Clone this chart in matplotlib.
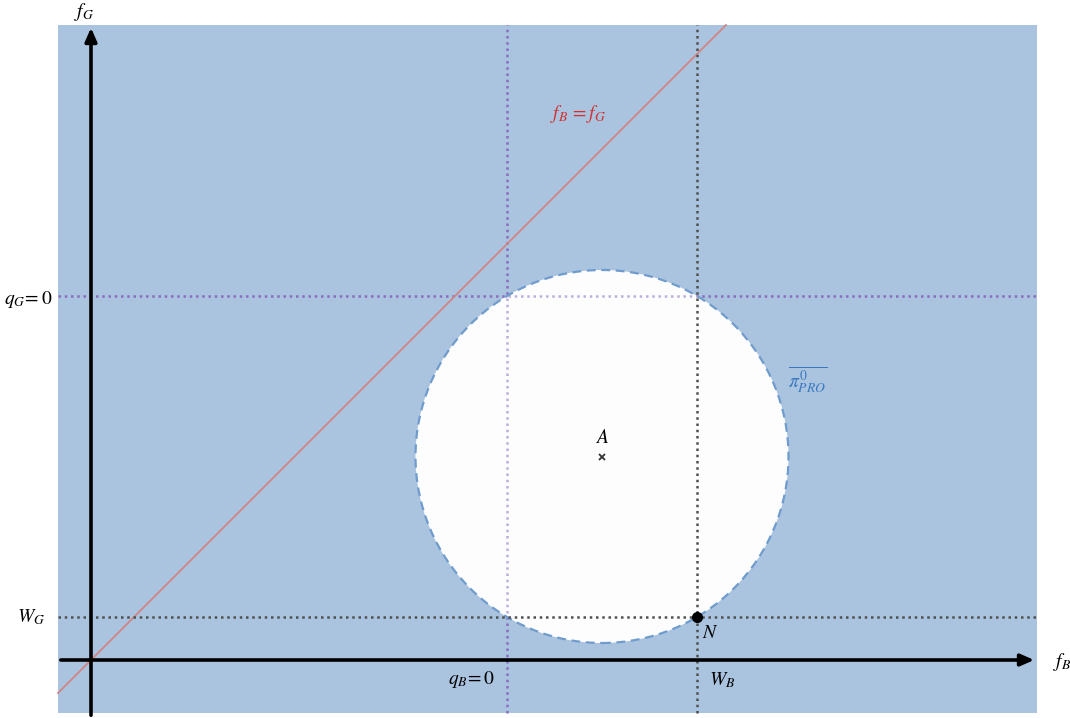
import matplotlib
matplotlib.use("Agg")
import matplotlib.pyplot as plt
from matplotlib.patches import Circle, Rectangle

plt.rcParams['mathtext.fontset'] = 'stix'
plt.rcParams['font.family'] = ['DejaVu Serif']

# Data (units: abstract plane coordinates, origin at O)
q_B0 = 416       # q_B = 0 line (fB value)
W_B = 606        # W_B (fB value)
q_G0 = 364       # q_G = 0 line (fG value)
W_G = 43         # W_G (fG value)
A = (511, 203.5)  # centre of the circle
radius = 186.5
N = (606, 43)
plane_x = (-33, 946)
plane_y = (-53, 635)

fig = plt.figure(figsize=(10.7, 7.18), dpi=100)
ax = fig.add_axes([0, 0, 1, 1])
ax.set_xlim(-91, 979)
ax.set_ylim(-58, 660)
ax.axis('off')

bg = '#aac4e0'
ax.add_patch(Rectangle((plane_x[0], plane_y[0]), plane_x[1] - plane_x[0],
                       plane_y[1] - plane_y[0], facecolor=bg, edgecolor='none', zorder=0))

purple = '#8a6cc0'
gray = '#505050'
dot = (0, (1, 1.5))
# purple dotted lines (below circle)
ax.plot([q_B0, q_B0], [plane_y[0], plane_y[1]], ls=dot, color=purple, lw=1.8, zorder=1)
ax.plot([plane_x[0], plane_x[1]], [q_G0, q_G0], ls=dot, color=purple, lw=1.8, zorder=1)

# red 45 degree line
ax.plot([plane_x[0], plane_y[1]], [plane_x[0], plane_y[1]], color='#d08585', lw=1.3, zorder=2)

# circle
circ = Circle(A, radius, facecolor='#fdfdfe', edgecolor='none', zorder=3)
ax.add_patch(circ)
# faint purple lines within circle
l1, = ax.plot([q_B0, q_B0], [plane_y[0], plane_y[1]], ls=dot, color=purple, lw=1.8,
              alpha=0.55, zorder=3.5)
l2, = ax.plot([plane_x[0], plane_x[1]], [q_G0, q_G0], ls=dot, color=purple, lw=1.8,
              alpha=0.55, zorder=3.5)
clipc = Circle(A, radius, transform=ax.transData)
l1.set_clip_path(clipc)
l2.set_clip_path(clipc)

ax.add_patch(Circle(A, radius, facecolor='none', edgecolor='#6f9ccc', lw=1.6,
                    ls=(0, (4, 2.5)), zorder=4))

# gray dotted lines
ax.plot([W_B, W_B], [plane_y[0], plane_y[1]], ls=dot, color=gray, lw=1.8, zorder=5)
ax.plot([plane_x[0], plane_x[1]], [W_G, W_G], ls=dot, color=gray, lw=1.8, zorder=5)

# axes arrows
ax.annotate('', xy=(plane_x[1], 0), xytext=(plane_x[0], 0),
            arrowprops=dict(arrowstyle='-|>,head_length=0.8,head_width=0.35', lw=2.6, color='black'),
            zorder=6)
ax.annotate('', xy=(0, plane_y[1]), xytext=(0, -58),
            arrowprops=dict(arrowstyle='-|>,head_length=0.8,head_width=0.35', lw=2.6, color='black'),
            zorder=6)

# points
ax.plot(*A, marker='x', color='#333333', ms=4, mew=1.3, zorder=7)
ax.plot(*N, marker='o', color='black', ms=7, zorder=7)

fs = 14
ax.text(-7, 648, r'$f_G$', fontsize=fs, ha='center', va='center')
ax.text(971, -2, r'$f_B$', fontsize=fs, ha='center', va='center')
ax.text(-63, 360, r'$q_G\!=0$', fontsize=fs, ha='center', va='center')
ax.text(-60, 43, r'$W_G$', fontsize=fs, ha='center', va='center')
ax.text(381, -20, r'$q_B\!=0$', fontsize=fs, ha='center', va='center')
ax.text(631, -20, r'$W_B$', fontsize=fs, ha='center', va='center')
ax.text(487, 546, r'$f_B\,=f_G$', fontsize=fs, ha='center', va='center', color='#d03030')
ax.text(717, 280, r'$\overline{\pi^0_{PRO}}$', fontsize=fs, ha='center', va='center', color='#3a78c0')
ax.text(511, 222, r'$A$', fontsize=fs, ha='center', va='center')
ax.text(619, 27, r'$N$', fontsize=fs, ha='center', va='center')

fig.savefig('out.png', dpi=100)
